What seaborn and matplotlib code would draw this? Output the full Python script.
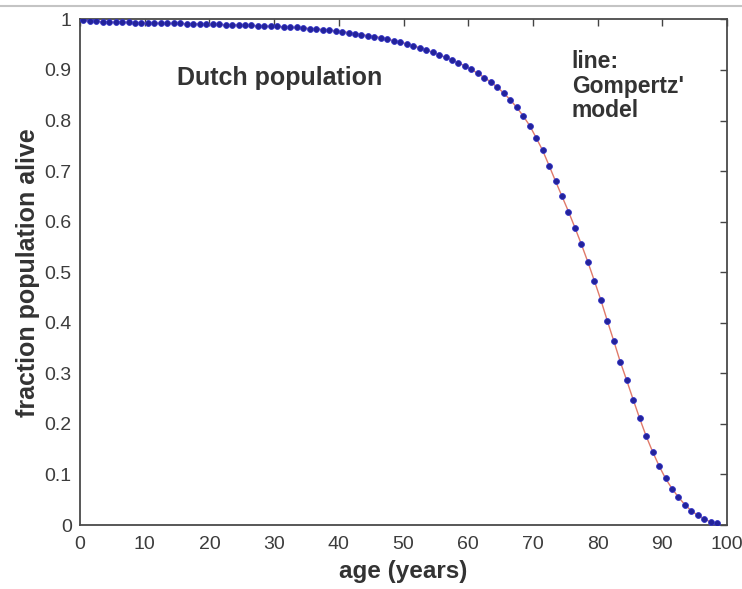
import numpy as np
import pandas as pd
import matplotlib
matplotlib.use("Agg")
import matplotlib.pyplot as plt
from matplotlib.lines import Line2D
import seaborn as sns

# ---- data ----
ages = [a + 0.5 for a in range(99)]
alive = [
    0.998, 0.997, 0.996, 0.995, 0.995, 0.994, 0.994, 0.994, 0.993, 0.993,
    0.993, 0.993, 0.992, 0.992, 0.992, 0.992, 0.991, 0.991, 0.991, 0.990,
    0.990, 0.990, 0.989, 0.989, 0.989, 0.988, 0.988, 0.987, 0.987, 0.986,
    0.986, 0.985, 0.984, 0.984, 0.983, 0.982, 0.981, 0.980, 0.979, 0.977,
    0.976, 0.974, 0.972, 0.970, 0.968, 0.966, 0.964, 0.961, 0.958, 0.955,
    0.952, 0.948, 0.944, 0.940, 0.935, 0.930, 0.925, 0.920, 0.914, 0.908,
    0.901, 0.893, 0.885, 0.876, 0.866, 0.854, 0.841, 0.826, 0.809, 0.790,
    0.766, 0.741, 0.711, 0.680, 0.650, 0.620, 0.588, 0.555, 0.520, 0.483,
    0.445, 0.404, 0.364, 0.323, 0.286, 0.248, 0.211, 0.176, 0.145, 0.117,
    0.092, 0.072, 0.055, 0.040, 0.028, 0.019, 0.012, 0.006, 0.003,
]
# Gompertz' model line (drawn through the same fitted points)
model = list(alive)

x_ticks = [0, 10, 20, 30, 40, 50, 60, 70, 80, 90, 100]
y_ticks = [0, 0.1, 0.2, 0.3, 0.4, 0.5, 0.6, 0.7, 0.8, 0.9, 1]
y_tick_labels = ["0", "0.1", "0.2", "0.3", "0.4", "0.5", "0.6", "0.7", "0.8", "0.9", "1"]

df = pd.DataFrame({"age": ages, "alive": alive, "model": model})

sns.set_style("white")
plt.rcParams["font.family"] = ["Liberation Sans", "DejaVu Sans"]

fig = plt.figure(figsize=(7.42, 5.89), dpi=100)
ax = fig.add_axes([80 / 742, 1 - 525 / 589, (727 - 80) / 742, (525 - 19.4) / 589])

sns.lineplot(data=df, x="age", y="model", ax=ax, color="#e07a6a", linewidth=1.0, zorder=2)
sns.scatterplot(data=df, x="age", y="alive", ax=ax, color="#23239a", s=18,
                edgecolor="#3535c8", linewidth=0.6, zorder=3)

ax.set_xlim(0, 100)
ax.set_ylim(0, 1)
ax.set_xticks(x_ticks)
ax.set_xticklabels([str(t) for t in x_ticks])
ax.set_yticks(y_ticks)
ax.set_yticklabels(y_tick_labels)

tick_color = "#3c3c3c"
ax.tick_params(axis="both", direction="in", length=5, width=1.0, color="#444444",
               labelsize=14, labelcolor=tick_color, top=True, right=True)
ax.tick_params(axis="x", pad=8)
ax.tick_params(axis="y", pad=6)
for sp in ax.spines.values():
    sp.set_visible(True)
    sp.set_color("#4a4a4a")
    sp.set_linewidth(1.3)

ax.set_xlabel("age (years)", fontsize=17.5, fontweight="bold", color="#333333", labelpad=5)
ax.set_ylabel("fraction population alive", fontsize=18, fontweight="bold", color="#333333",
              labelpad=3)

ax.text(15.0, 0.885, "Dutch population", fontsize=18, fontweight="bold", color="#333333",
        va="center", ha="left")
ax.text(76.0, 0.868, "line:\nGompertz'\nmodel", fontsize=16.5, fontweight="bold",
        color="#333333", va="center", ha="left", linespacing=1.1)

fig.add_artist(Line2D([0, 1], [1 - 6 / 589, 1 - 6 / 589], transform=fig.transFigure,
                      color="#c4c4c4", linewidth=1.5))

fig.savefig("out.png", dpi=100, facecolor="white")
